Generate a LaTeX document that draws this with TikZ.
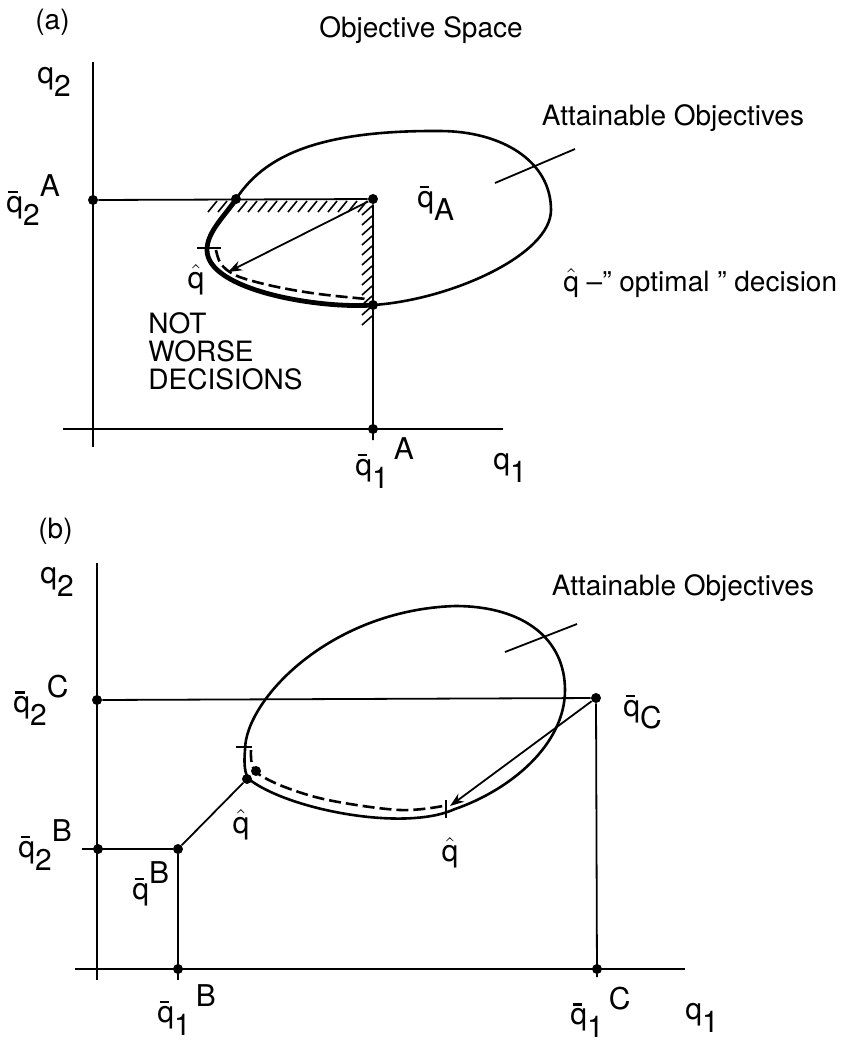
\documentclass[tikz,border=0pt]{standalone}
\usepackage{fontspec}
\setmainfont{TeX Gyre Heros}
\usetikzlibrary{arrows.meta}

\newcommand{\lblfont}{\fontsize{14}{17}\selectfont}
\newcommand{\qfont}{\fontsize{15}{18}\selectfont}
\newcommand{\qbar}{\makebox[0pt][l]{\hspace{0.07em}\raisebox{0.64em}{\rule{0.32em}{0.075em}}}q}
\newcommand{\qhat}{$\hat{\hbox{q}}$}
\newcommand{\subidx}[1]{\raisebox{-0.8ex}{#1}}
\newcommand{\supidx}[1]{\raisebox{1.0ex}{#1}}
\newcommand{\ovalA}{(236,199) .. controls (262,160) and (310,130) .. (440,131)
  .. controls (500,131) and (551,160) .. (551,210)
  .. controls (551,255) and (450,300) .. (373,305)
  .. controls (318,309) and (207,290) .. (207,250)
  .. controls (207,232) and (224,217) .. (236,199) -- cycle}

\tikzset{
  axis/.style={line width=0.9pt},
  region/.style={line width=1.3pt},
  frontier/.style={line width=2.4pt},
  dashline/.style={line width=1.3pt, dash pattern=on 6pt off 2.5pt},
  hatch/.style={line width=0.8pt},
  dot/.style={circle, fill, inner sep=0pt, minimum size=5pt},
  pointer/.style={line width=0.9pt, -{Stealth[length=7pt,width=5pt]}},
  lbl/.style={font=\lblfont, inner sep=0pt},
  qlbl/.style={font=\qfont, inner sep=0pt},
}

\begin{document}
\begin{tikzpicture}[x=0.5pt, y=-0.5pt]
  \useasboundingbox (0,0) rectangle (868,1041);

  % (a) -- axes and reference point
  \node[dot] (q2A) at (93,200) {};
  \node[dot] (qA) at (373,199) {};
  \node[dot] (cutA) at (236,199) {};
  \node[dot] (lowA) at (373,305) {};
  \node[dot] (q1A) at (373,429) {};
  \coordinate (yTopA) at (93,62);
  \coordinate (yBotA) at (93,447);
  \coordinate (xLeftA) at (63,429);
  \coordinate (xRightA) at (503,429);
  \coordinate (q1Atick) at (373,440);
  \coordinate (qhatA) at (228,272);
  \draw[axis] (yTopA) -- (yBotA);
  \draw[axis] (xLeftA) -- (xRightA);
  \draw[axis] (q2A) -- (qA) -- (q1Atick);

  % attainable set and its not-worse part
  \draw[region] \ovalA;
  \begin{scope}
    \clip (93,199) rectangle (373,429);
    \draw[frontier] \ovalA;
  \end{scope}
  \draw[dashline] plot[smooth, tension=0.6] coordinates {(216,250) (221,264) (235,275) (260,283) (293,290) (327,295) (367,299)};
  \draw[axis] (197,248) -- (221,248);
  \foreach \x in {208,218,...,358}
    \draw[hatch] (\x,212) -- ++(9,-11);
  \foreach \y in {206,216,...,316}
    \draw[hatch] (362,\y+9) -- ++(10,-9);
  \draw[pointer] (qA) -- (qhatA);
  \draw[axis] (495,183) -- (575,149);

  % (a) -- labels
  \node[lbl, anchor=west] (tagA) at (35,22) {(a)};
  \node[lbl] (title) at (421,30) {Objective Space};
  \node[qlbl, anchor=west] (q2labA) at (37,82) {q\subidx{2}};
  \node[qlbl, anchor=west] (q2AlabA) at (6,200) {\qbar\subidx{2}\supidx{A}};
  \node[qlbl, anchor=west] (qAlab) at (417,203) {\qbar\subidx{A}};
  \node[lbl] (omegaA) at (435,238) {$\mathbf{\Omega}$};
  \node[lbl] (attA) at (673,118) {Attainable Objectives};
  \node[lbl, anchor=west] (optimal) at (563,283) {\qhat\ –'' optimal '' decision};
  \node[qlbl] (qhatlabA) at (196,280) {\qhat};
  \node[lbl, anchor=north west, align=left, font=\fontsize{14}{14}\selectfont] (notworse) at (148,312) {NOT\\WORSE\\DECISIONS};
  \node[qlbl, anchor=west] (q1AlabA) at (355,463) {\qbar\subidx{1}\,\supidx{A}};
  \node[qlbl, anchor=west] (q1labA) at (493,468) {q\subidx{1}};

  % (b) -- axes and reference points
  \node[dot] (q2C) at (97,700) {};
  \node[dot] (qC) at (596,698) {};
  \node[dot] (q1C) at (597,969) {};
  \node[dot] (q2B) at (98,849) {};
  \node[dot] (qB) at (178,849) {};
  \node[dot] (q1B) at (178,969) {};
  \node[dot] (qhatB) at (247,779) {};
  \node[dot] (qhatBb) at (256,771) {};
  \coordinate (yTopB) at (97,563);
  \coordinate (yBotB) at (97,980);
  \coordinate (xLeftB) at (75,969);
  \coordinate (xRightB) at (685,969);
  \coordinate (q1Ctick) at (597,977);
  \coordinate (q1Btick) at (178,980);
  \coordinate (q2Btick) at (82,849);
  \coordinate (qhatC) at (450,806);
  \draw[axis] (yTopB) -- (yBotB);
  \draw[axis] (xLeftB) -- (xRightB);
  \draw[axis] (q2C) -- (qC) -- (q1Ctick);
  \draw[axis] (q2Btick) -- (qB) -- (q1Btick);
  \draw[axis] (qB) -- (qhatB);

  % attainable set, lower boundary
  \draw[region] (245,750) .. controls (245,700) and (330,610) .. (455,606)
    .. controls (525,606) and (565,640) .. (565,690)
    .. controls (565,745) and (510,790) .. (455,809)
    .. controls (405,832) and (290,810) .. (250,780)
    .. controls (244,775) and (244,762) .. (245,750) -- cycle;
  \draw[dashline] plot[smooth, tension=0.6] coordinates {(251,750) (252,764) (260,775) (290,789) (333,801) (400,810) (443,806)};
  \draw[axis] (236,747) -- (252,747);
  \draw[axis] (446,800) -- (446,818);
  \draw[pointer] (qC) -- (qhatC);
  \draw[axis] (505,652) -- (577,624);

  % (b) -- labels
  \node[lbl, anchor=west] (tagB) at (38,531) {(b)};
  \node[qlbl, anchor=west] (q2labB) at (40,582) {q\subidx{2}};
  \node[qlbl, anchor=west] (q2ClabB) at (13,700) {\qbar\subidx{2}\supidx{C}};
  \node[qlbl, anchor=west] (qClab) at (623,712) {\qbar\subidx{C}};
  \node[lbl] (omegaB) at (465,652) {$\mathbf{\Omega}$};
  \node[lbl] (attB) at (683,588) {Attainable Objectives};
  \node[qlbl] (qhatlabB) at (241,825) {\qhat};
  \node[qlbl] (qhatlabC) at (450,853) {\qhat};
  \node[qlbl, anchor=west] (qBlab) at (132,884) {\qbar\supidx{B}};
  \node[qlbl, anchor=west] (q2BlabB) at (18,845) {\qbar\subidx{2}\supidx{B}};
  \node[qlbl, anchor=west] (q1BlabB) at (157,1010) {\qbar\subidx{1}\,\supidx{B}};
  \node[qlbl, anchor=west] (q1ClabB) at (570,1012) {\qbar\subidx{1}\,\supidx{C}};
  \node[qlbl, anchor=west] (q1labB) at (685,1018) {q\subidx{1}};
\end{tikzpicture}
\end{document}
